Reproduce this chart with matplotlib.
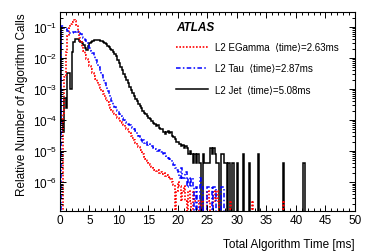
import numpy as np
import matplotlib
matplotlib.use("Agg")
import matplotlib.pyplot as plt
from matplotlib.ticker import MultipleLocator, LogLocator, NullFormatter

plt.rcParams['font.family'] = ['Liberation Sans', 'DejaVu Sans']
plt.rcParams['mathtext.default'] = 'regular'

# histogram binning: 0.25 ms bins from 0 to 50 ms
BIN_W = 0.25
N_BINS = 200

# log10 of the relative number of calls, bin by bin from 0 ms (None = empty bin)
egamma_exp = [None, None, -3.8, -2.6, -1.8, -1.3, -1.05, -0.92, -0.83, -0.78,
              -0.8, -0.95, -1.15, -1.35, -1.5, -1.64, -1.78, -1.9, -2.02, -2.14,
              -2.25, -2.36, -2.47, -2.58, -2.68, -2.78, -2.88, -2.97, -3.06, -3.15,
              -3.24, -3.33, -3.42, -3.51, -3.6, -3.67, -3.74, -3.81, -3.88, -3.94,
              -4.0, -4.05, -4.1, -4.16, -4.22, -4.28, -4.35, -4.43, -4.5, -4.58,
              -4.65, -4.73, -4.8, -4.88, -4.95, -5.03, -5.1, -5.18, -5.25, -5.33,
              -5.38, -5.45, -5.5, -5.55, -5.6, -5.63, -5.6, -5.7, -5.68, -5.75,
              -5.72, -5.8, -5.78, -5.85, -5.9, -5.88, -6.0, -6.1]
tau_exp = [None, -0.97, -0.98, -1.02, -1.08, -1.14, -1.18, -1.2, -1.19, -1.17,
           -1.15, -1.14, -1.15, -1.18, -1.22, -1.28, -1.35, -1.42, -1.5, -1.59,
           -1.68, -1.76, -1.85, -1.95, -2.05, -2.17, -2.3, -2.42, -2.55, -2.67,
           -2.8, -2.92, -3.05, -3.16, -3.28, -3.39, -3.5, -3.58, -3.65, -3.72,
           -3.8, -3.86, -3.93, -3.99, -4.05, -4.09, -4.13, -4.17, -4.22, -4.26,
           -4.3, -4.36, -4.45, -4.52, -4.6, -4.7, -4.65, -4.75, -4.72, -4.8,
           -4.78, -4.85, -4.83, -4.9, -4.92, -4.95, -5.0, -4.98, -5.02, -5.1,
           -5.06, -5.15, -5.18, -5.22, -5.26, -5.3, -5.38, -5.45, -5.55, -5.6]
jet_exp = [-1.05, -4.0, -4.4, -3.3, -3.6, -2.5, -2.5, -3.0, -1.82, -1.5,
           -1.38, -1.38, -1.4, -1.45, -1.5, -1.52, -1.58, -1.68, -1.73, -1.62,
           -1.52, -1.47, -1.44, -1.43, -1.42, -1.42, -1.43, -1.44, -1.46, -1.48,
           -1.52, -1.56, -1.6, -1.65, -1.7, -1.75, -1.8, -1.86, -1.95, -2.05,
           -2.17, -2.28, -2.4, -2.52, -2.62, -2.72, -2.82, -2.92, -3.02, -3.12,
           -3.22, -3.32, -3.4, -3.48, -3.55, -3.62, -3.7, -3.76, -3.82, -3.88,
           -3.92, -3.97, -4.02, -4.08, -4.12, -4.18, -4.15, -4.25, -4.3, -4.28,
           -4.38, -4.45, -4.4, -4.35, -4.42, -4.38, -4.5, -4.55, -4.6, -4.72,
           -4.7, -4.78, -4.83, -4.8, -4.91, -4.83, -4.91, -5.09, -5.0, -5.09,
           -5.39, -5.09]

# sparse tails: bin start [ms] and relative number
egamma_tail_t = [19.75, 20.0, 20.25, 20.5, 20.75, 21.0, 21.25, 21.75, 22.0, 22.5,
                 22.75, 23.0, 23.25, 24.0, 25.0, 25.25, 26.0, 26.25, 26.5, 26.75,
                 28.75, 32.5, 37.75]
egamma_tail_v = [5e-7, 1e-6, 7.5e-7, 2.5e-7, 5e-7, 7.5e-7, 2.5e-7, 5e-7, 2.5e-7, 5e-7,
                 2.5e-7, 2.5e-7, 2.5e-7, 2.5e-7, 5e-7, 2.5e-7, 5e-7, 2.5e-7, 5e-7, 2.5e-7,
                 2.5e-7, 2.5e-7, 2.5e-7]
tau_tail_t = [20.0, 20.25, 20.5, 20.75, 21.0, 21.25, 21.5, 21.75, 22.0, 22.25,
              22.5, 23.0, 23.75, 24.0, 25.0, 25.25, 25.5, 26.0, 26.25, 27.25, 27.5]
tau_tail_v = [2.1e-6, 1.4e-6, 2.8e-6, 1.4e-6, 1.4e-6, 2.1e-6, 7e-7, 1.4e-6, 7e-7, 1.4e-6,
              7e-7, 7e-7, 1.4e-6, 7e-7, 7e-7, 7e-7, 7e-7, 7e-7, 7e-7, 7e-7, 7e-7]
jet_tail_t = [23.0, 23.25, 23.5, 23.75, 24.25, 24.5, 24.75, 25.0, 25.25, 25.5,
              25.75, 26.0, 26.25, 26.5, 26.75, 27.25, 27.5, 27.75, 28.0, 28.5,
              29.25, 30.0, 31.0, 32.0, 33.5, 37.75, 41.25]
jet_tail_v = [4.1e-6, 8.2e-6, 4.1e-6, 4.1e-6, 8.2e-6, 4.1e-6, 4.1e-6, 4.1e-6, 4.1e-6, 1.23e-5,
              8.2e-6, 1.23e-5, 8.2e-6, 4.1e-6, 4.1e-6, 8.2e-6, 8.2e-6, 4.1e-6, 4.1e-6, 4.1e-6,
              4.1e-6, 4.1e-6, 8.2e-6, 4.1e-6, 8.2e-6, 4.1e-6, 4.1e-6]

labels = ["L2 EGamma  \u27e8time\u27e9=2.63ms",
          "L2 Tau  \u27e8time\u27e9=2.87ms",
          "L2 Jet  \u27e8time\u27e9=5.08ms"]

EMPTY = 1e-12  # empty bins drop below the axis


def build(dense, tail_t, tail_v):
    h = np.full(N_BINS, EMPTY)
    for i, e in enumerate(dense):
        if e is not None:
            h[i] = 10.0 ** e
    for t, v in zip(tail_t, tail_v):
        h[int(round(t / BIN_W))] = v
    return h


edges = np.arange(N_BINS + 1) * BIN_W
h_eg = build(egamma_exp, egamma_tail_t, egamma_tail_v)
h_tau = build(tau_exp, tau_tail_t, tau_tail_v)
h_jet = build(jet_exp, jet_tail_t, jet_tail_v)

fig = plt.figure(figsize=(3.74, 2.53), dpi=100)
ax = fig.add_axes([0.160, 0.162, 0.789, 0.787])

s_jet = ax.stairs(h_jet, edges, baseline=None, color='black', lw=1.1, label=labels[2])
s_eg = ax.stairs(h_eg, edges, baseline=None, color='#ff0000', lw=1.2,
                 linestyle=(0, (1, 1)), label=labels[0])
s_tau = ax.stairs(h_tau, edges, baseline=None, color='#0000ff', lw=1.1,
                  linestyle=(0, (3, 1.5, 1, 1.5)), label=labels[1])

ax.set_yscale('log')
ax.set_xlim(0, 50)
ax.set_ylim(1.17e-7, 0.305)

ax.xaxis.set_major_locator(MultipleLocator(5))
ax.xaxis.set_minor_locator(MultipleLocator(1))
ax.yaxis.set_major_locator(LogLocator(base=10, numticks=20))
ax.yaxis.set_minor_locator(LogLocator(base=10, subs=np.arange(2, 10), numticks=20))
ax.yaxis.set_minor_formatter(NullFormatter())
ax.tick_params(which='both', direction='in', top=True, right=True, labelsize=8.5, width=0.7)
ax.tick_params(which='major', length=4.5, pad=2)
ax.tick_params(which='minor', length=2.3)
for sp in ax.spines.values():
    sp.set_linewidth(0.8)

ax.set_xlabel("Total Algorithm Time [ms]", fontsize=8.5, loc='right', labelpad=9)
ax.set_ylabel("Relative Number of Algorithm Calls", fontsize=8.5, loc='top', labelpad=3)

ax.text(0.393, 0.925, "ATLAS", transform=ax.transAxes, fontsize=8.5,
        fontweight='bold', fontstyle='italic', va='center', ha='left')

leg = ax.legend(handles=[s_eg, s_tau, s_jet], loc='upper left',
                bbox_to_anchor=(0.393, 0.848), frameon=False, fontsize=7,
                handlelength=3.3, handletextpad=0.7, labelspacing=1.15,
                borderaxespad=0, borderpad=0)

fig.savefig("out.png", dpi=100)
